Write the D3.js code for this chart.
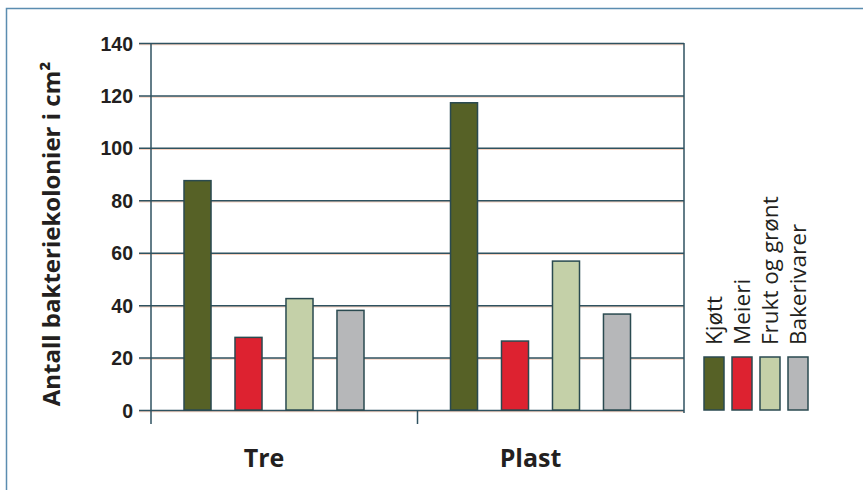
<!DOCTYPE html>
<html>
<head>
<meta charset="utf-8">
<script src="https://cdn.jsdelivr.net/npm/d3@7"></script>
<style>
  body { margin: 0; background: #fff; }
  svg { display: block; font-family: "Open Sans", "Noto Sans", sans-serif; }
</style>
</head>
<body>
<div id="chart"></div>
<script>
let width = 863
let height = 490

// data
let groups = ["Tre", "Plast"]
let series = ["Kjøtt", "Meieri", "Frukt og grønt", "Bakerivarer"]
let treValues = [87.5, 27.7, 42.5, 38]
let plastValues = [117.2, 26.3, 56.8, 36.6]
let yTicks = [0, 20, 40, 60, 80, 100, 120, 140]
let colors = ["#566126", "#dd2230", "#c4d0a8", "#b6b7b9"]

let rows = [
  { group: "Tre", values: treValues },
  { group: "Plast", values: plastValues }
]

let plot = { left: 151, right: 684, top: 43, bottom: 410 }
let lineColor = "#2f5260"

let svg = d3.select("#chart").append("svg")
  .attr("width", width)
  .attr("height", height)

// outer frame (only top and left edges show in the window)
svg.append("rect")
  .attr("x", 6.5).attr("y", 8.5)
  .attr("width", width).attr("height", height)
  .attr("fill", "none")
  .attr("stroke", "#5b8db0")
  .attr("stroke-width", 1.5)

let y = d3.scaleLinear().domain([0, 140]).range([plot.bottom, plot.top])
let x0 = d3.scaleBand().domain(groups).range([plot.left, plot.right])
let x1 = d3.scaleBand().domain(series).range([0, 180]).paddingInner(0.47)
let color = d3.scaleOrdinal(series, colors)

//gridlines, with the faint orange halo of the print
svg.append("g")
  .selectAll("line")
  .data(yTicks)
  .join("line")
  .attr("x1", plot.left - 12).attr("x2", plot.right)
  .attr("y1", d => y(d) + 1.5).attr("y2", d => y(d) + 1.5)
  .attr("stroke", "#f6d2c0").attr("stroke-width", 1.5)

let yAxis = d3.axisLeft(y)
  .tickValues(yTicks)
  .tickSize(-(plot.right - plot.left))
  .tickPadding(18)

let yg = svg.append("g")
  .attr("transform", "translate(" + plot.left + ",0)")
  .call(yAxis)
yg.select(".domain").remove()
yg.selectAll(".tick line")
  .attr("x1", -12)
  .attr("stroke", lineColor)
  .attr("stroke-width", 1.5)
yg.selectAll(".tick text")
  .attr("font-size", 19.5)
  .attr("font-weight", "bold")
  .attr("fill", "#231f20")
  .attr("dy", "0.36em")

// vertical axis lines and the bottom ticks
svg.append("line")
  .attr("x1", plot.left).attr("x2", plot.left)
  .attr("y1", plot.top).attr("y2", plot.bottom + 14)
  .attr("stroke", lineColor).attr("stroke-width", 1.5)
svg.append("line")
  .attr("x1", plot.right).attr("x2", plot.right)
  .attr("y1", plot.top).attr("y2", plot.bottom + 3)
  .attr("stroke", lineColor).attr("stroke-width", 1.5)
svg.append("g")
  .selectAll("line")
  .data(groups.slice(1))
  .join("line")
  .attr("x1", d => x0(d)).attr("x2", d => x0(d))
  .attr("y1", plot.bottom).attr("y2", plot.bottom + 14)
  .attr("stroke", lineColor).attr("stroke-width", 1.5)

// bars
let groupG = svg.append("g")
  .selectAll("g")
  .data(rows)
  .join("g")
  .attr("transform", d => "translate(" + (x0(d.group) + 33) + ",0)")

groupG.selectAll("rect")
  .data(d => d.values.map((v, i) => ({ key: series[i], value: v })))
  .join("rect")
  .attr("x", d => x1(d.key))
  .attr("y", d => y(d.value))
  .attr("width", x1.bandwidth())
  .attr("height", d => y(0) - y(d.value))
  .attr("fill", d => color(d.key))
  .attr("stroke", "#2a4a50")
  .attr("stroke-width", 1.5)

// group labels
svg.append("g")
  .selectAll("text")
  .data(groups)
  .join("text")
  .attr("x", d => x0(d) + 113)
  .attr("y", 467)
  .attr("text-anchor", "middle")
  .attr("font-size", 25)
  .attr("font-weight", "bold")
  .attr("fill", "#231f20")
  .text(d => d)

// y title
svg.append("text")
  .attr("transform", "translate(60," + 234 + ") rotate(-90)")
  .attr("text-anchor", "middle")
  .attr("font-size", 24)
  .attr("font-weight", "bold")
  .attr("fill", "#231f20")
  .text("Antall bakteriekolonier i cm²")

// legend
let legendX = d3.scalePoint().domain(series).range([704, 788])
let legend = svg.append("g")
  .selectAll("g")
  .data(series)
  .join("g")
  .attr("transform", d => "translate(" + legendX(d) + ",0)")

legend.append("rect")
  .attr("x", 0).attr("y", 357)
  .attr("width", 20).attr("height", 53)
  .attr("fill", d => color(d))
  .attr("stroke", "#2a4a50")
  .attr("stroke-width", 1.5)

legend.append("text")
  .attr("transform", "translate(17.5,345) rotate(-90)")
  .attr("font-size", 22.5)
  .attr("fill", "#231f20")
  .text(d => d)
</script>
</body>
</html>
